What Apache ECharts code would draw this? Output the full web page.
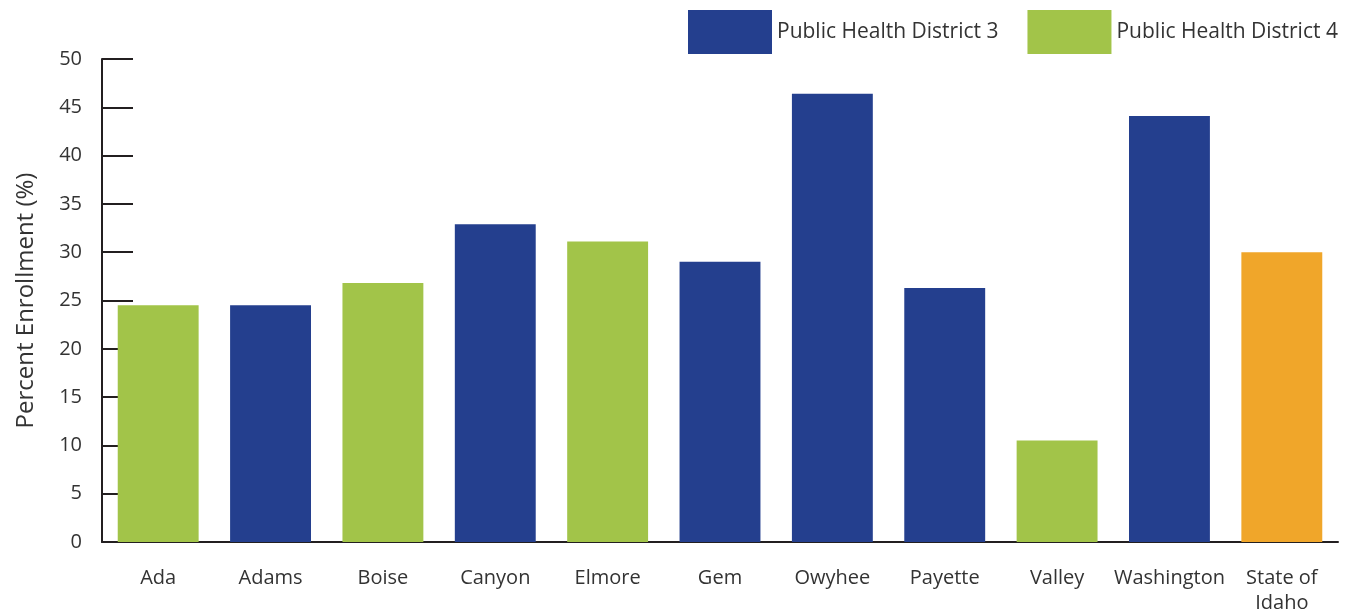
<!DOCTYPE html>
<html>
<head>
<meta charset="utf-8">
<script src="https://cdn.jsdelivr.net/npm/echarts@6/dist/echarts.min.js"></script>
<style>
  html, body { margin: 0; padding: 0; background: #fff; }
  #chart { width: 1348px; height: 616px; }
</style>
</head>
<body>
<div id="chart"></div>
<script>
  // counties, plus the state average at the end
  var categories = ['Ada', 'Adams', 'Boise', 'Canyon', 'Elmore', 'Gem', 'Owyhee', 'Payette', 'Valley', 'Washington', 'State of\nIdaho']
  // '-' = county belongs to the other district
  var district3 = ['-', 24.5, '-', 32.9, '-', 29.0, 46.4, 26.3, '-', 44.1, '-']
  var district4 = [24.5, '-', 26.8, '-', 31.1, '-', '-', '-', 10.5, '-', '-']
  var stateOfIdaho = ['-', '-', '-', '-', '-', '-', '-', '-', '-', '-', 30.0]
  var yTicks = [0, 5, 10, 15, 20, 25, 30, 35, 40, 45, 50]

  var font = 'Open Sans'
  var axisColor = '#231f20'
  var textColor = '#333333'

  var chart = echarts.init(document.getElementById('chart'))

  function barSeries (name, data, color) {
    return {
      name: name,
      type: 'bar',
      stack: 'all',
      barCategoryGap: '28%',
      data: data,
      itemStyle: { color: color },
      emphasis: { disabled: true }
    }
  }

  chart.setOption({
    animation: false,
    textStyle: { fontFamily: font },
    legend: {
      data: ['Public Health District 3', 'Public Health District 4'],
      left: 683,
      top: 5,
      icon: 'rect',
      itemWidth: 84,
      itemHeight: 44,
      itemGap: 29,
      textStyle: { fontSize: 21, color: textColor, fontFamily: font }
    },
    grid: {
      left: 102,
      right: 10,
      top: 59,
      bottom: 74
    },
    xAxis: {
      type: 'category',
      data: categories,
      axisLine: { lineStyle: { color: axisColor, width: 2 } },
      axisTick: { inside: true, length: 10, lineStyle: { color: axisColor, width: 2 } },
      axisLabel: { fontSize: 20, color: textColor, margin: 24, lineHeight: 25, interval: 0 }
    },
    yAxis: {
      type: 'value',
      min: yTicks[0],
      max: yTicks[yTicks.length - 1],
      interval: 5,
      name: 'Percent Enrollment (%)',
      nameLocation: 'middle',
      nameGap: 64,
      nameTextStyle: { fontSize: 24, color: textColor },
      axisLine: { show: true, lineStyle: { color: axisColor, width: 2 } },
      axisTick: { show: true, inside: true, length: 31, lineStyle: { color: axisColor, width: 2 } },
      axisLabel: { fontSize: 20, color: textColor, margin: 20 },
      splitLine: { show: false }
    },
    series: [
      barSeries('Public Health District 3', district3, '#243f8e'),
      barSeries('Public Health District 4', district4, '#a2c449'),
      barSeries('State of Idaho', stateOfIdaho, '#f0a62a')
    ]
  })
</script>
</body>
</html>
